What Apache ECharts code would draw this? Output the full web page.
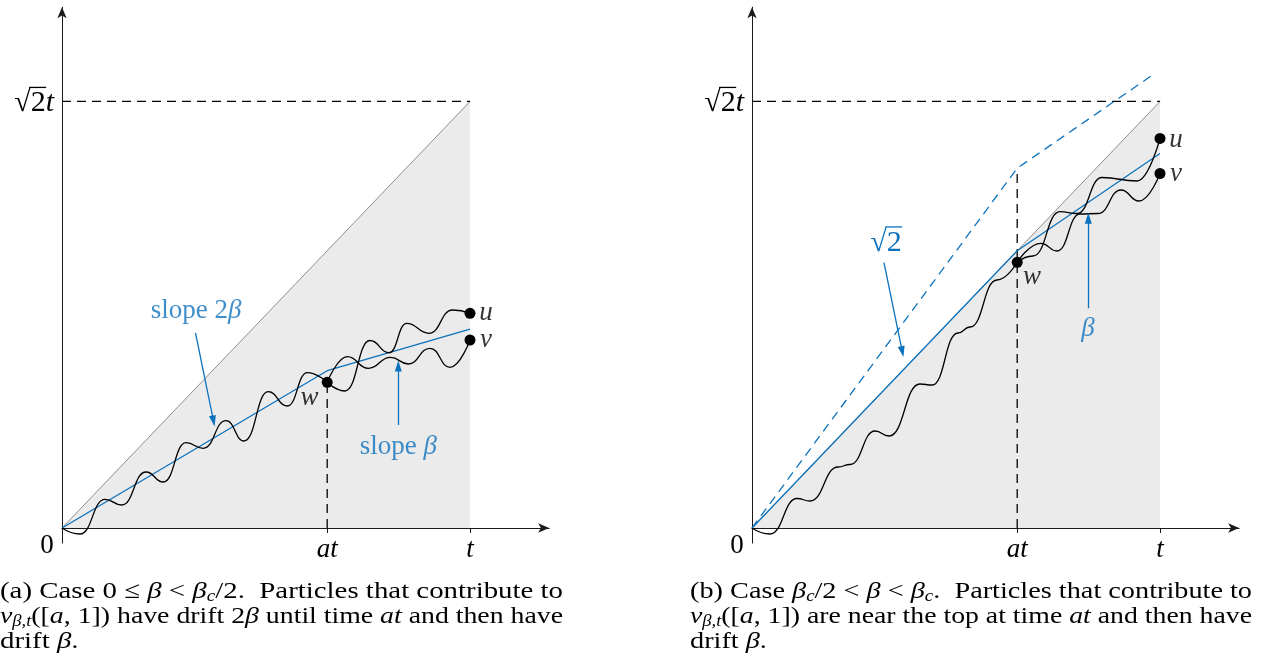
<!DOCTYPE html>
<html>
<head>
<meta charset="utf-8">
<script src="https://cdn.jsdelivr.net/npm/echarts@6.0.0/dist/echarts.min.js"></script>
<style>
html,body{margin:0;padding:0;background:#fff;}
#chart{width:1266px;height:667px;}
</style>
</head>
<body>
<div id="chart"></div>
<script>
// ---------------- data (time in units of t; height in the same units, top = sqrt(2)) ----------------
const SQRT2 = 1.41421;
const xTickValues = [0.65, 1];
const xTickLabels = ['at', 't'];

// panel (a)
const aTriangle = [[0, 0], [1, SQRT2]];
const aTopDash = [[0, SQRT2], [1, SQRT2]];
const aAtDash = [[0.65, 0], [0.65, 0.4831]];
const aBlue = [[0, 0], [0.65, 0.5216], [1, 0.659]];
const aPathToW = [[0, 0], [0.0441, -0.0199], [0.1054, 0.0952], [0.1463, 0.0763], [0.2059, 0.1857], [0.2483, 0.1525],
  [0.3039, 0.2828], [0.3463, 0.2643], [0.4020, 0.3558], [0.4461, 0.2885], [0.5056, 0.4519], [0.5522, 0.4045],
  [0.6012, 0.5149], [0.65, 0.4831]];
const aPathToU = [[0.65, 0.4831], [0.6936, 0.4542], [0.7549, 0.6217], [0.8015, 0.5812], [0.8449, 0.6787],
  [0.8995, 0.6456], [0.9571, 0.7228], [1, 0.7119]];
const aPathToV = [[0.65, 0.4831], [0.6998, 0.5680], [0.7507, 0.5295], [0.8051, 0.5660], [0.8488, 0.5438],
  [0.9020, 0.5958], [0.9510, 0.5328], [1, 0.6233]];
const aDots = [[0.65, 0.4831], [1, 0.7119], [1, 0.6233]];
const aArrows = [[0.3272, 0.6466, 0.3713, 0.3548], [0.8243, 0.3415, 0.8243, 0.5371]];
const aTexts = [
  [0.6066, 0.4310, '{i|w}'],
  [1.0392, 0.7129, '{i|u}'],
  [1.0392, 0.6233, '{i|v}'],
  [0.3284, 0.7195, '{b|slope 2}{bi|β}'],
  [0.8243, 0.2686, '{b|slope }{bi|β}']
];

// panel (b)
const bTriangle = [[0, 0], [1, SQRT2]];
const bTopDash = [[0, SQRT2], [1, SQRT2]];
const bAtDash = [[0.65, 0], [0.65, 1.193]];
const bBlue = [[0, 0], [0.65, 0.9192], [1, 1.242]];
const bBlueDashed = [[0, 0], [0.65, 1.193], [0.985, 1.505]];
const bPathToW = [[0, 0], [0.0441, -0.0199], [0.1103, 0.0978], [0.1422, 0.0895], [0.2108, 0.2023], [0.2402, 0.2105],
  [0.3015, 0.3216], [0.3358, 0.3050], [0.4118, 0.4775], [0.4412, 0.4741], [0.5049, 0.6466], [0.5343, 0.6664],
  [0.6005, 0.8223], [0.65, 0.8810]];
const bPathToU = [[0.65, 0.8810], [0.6887, 0.9019], [0.7549, 1.0487], [0.7966, 1.0428], [0.8578, 1.1621],
  [0.9436, 1.1505], [1, 1.2915]];
const bPathToV = [[0.65, 0.8810], [0.7083, 0.9440], [0.7475, 0.9184], [0.8039, 1.0411], [0.8480, 1.0428],
  [0.9044, 1.1207], [0.9485, 1.0842], [1, 1.1754]];
const bDots = [[0.65, 0.8810], [1, 1.2915], [1, 1.1754]];
const bArrows = [[0.3235, 0.8797, 0.3684, 0.5846], [0.8243, 0.7285, 0.8243, 1.0269]];
const bTexts = [
  [0.6863, 0.8322, '{i|w}'],
  [1.0392, 1.2865, '{i|u}'],
  [1.0392, 1.1737, '{i|v}'],
  [0.8235, 0.6600, '{bi|β}']
];
const bSqrtLabel = [0.3284, 0.945];

// captions
const captionA = [
  [['r', '(a) Case 0 ≤ '], ['i', 'β'], ['r', ' < '], ['i', 'β'], ['s', 'c'], ['r', '/2.  Particles that contribute to']],
  [['i', 'ν'], ['s', 'β,t'], ['r', '(['], ['i', 'a'], ['r', ', 1]) have drift 2'], ['i', 'β'], ['r', ' until time '], ['i', 'at'], ['r', ' and then have']],
  [['r', 'drift '], ['i', 'β'], ['r', '.']]
];
const captionB = [
  [['r', '(b) Case '], ['i', 'β'], ['s', 'c'], ['r', '/2 < '], ['i', 'β'], ['r', ' < '], ['i', 'β'], ['s', 'c'], ['r', '.  Particles that contribute to']],
  [['i', 'ν'], ['s', 'β,t'], ['r', '(['], ['i', 'a'], ['r', ', 1]) are near the top at time '], ['i', 'at'], ['r', ' and then have']],
  [['r', 'drift '], ['i', 'β'], ['r', '.']]
];

// ---------------- layout / style ----------------
const FONT = "'Liberation Serif', serif";
const BLUE = '#0c72bd';
const INK = '#000';
const AXIS = '#1a1a1a';
const LABEL_SIZE = 27;
const SQRT_SIZE = 30;
const PX_X = 408, PX_Y = 301.6;
const X_MAX = 1.194, Y_MAX = 1.727, Y_MIN = -0.05;
const ORIGINS = [[62, 528], [752, 528]];
const DASH = [9, 6];

const chart = echarts.init(document.getElementById('chart'));

function gridFor(o) {
  return { left: o[0], top: o[1] - Y_MAX * PX_Y, width: X_MAX * PX_X, height: (Y_MAX - Y_MIN) * PX_Y };
}
function xAxisFor(i) {
  return {
    type: 'value', gridIndex: i, min: 0, max: X_MAX,
    axisLine: { show: true, onZero: true, lineStyle: { color: AXIS, width: 1 }, symbol: ['none', 'arrow'], symbolSize: [7, 11] },
    axisTick: { show: true, customValues: xTickValues, length: 5, lineStyle: { color: AXIS, width: 1 } },
    axisLabel: {
      show: true, customValues: xTickValues, margin: -7,
      formatter: function (v) {
        const k = xTickValues.findIndex(function (t) { return Math.abs(t - v) < 1e-6; });
        return '{i|' + (k >= 0 ? xTickLabels[k] : '') + '}';
      },
      rich: { i: { fontFamily: FONT, fontStyle: 'italic', fontSize: LABEL_SIZE, color: INK } }
    },
    splitLine: { show: false }
  };
}
function yAxisFor(i) {
  return {
    type: 'value', gridIndex: i, min: Y_MIN, max: Y_MAX,
    axisLine: { show: true, onZero: false, lineStyle: { color: AXIS, width: 1 }, symbol: ['none', 'arrow'], symbolSize: [7, 11] },
    axisTick: { show: false }, axisLabel: { show: false }, splitLine: { show: false }
  };
}
const labelRich = {
  i: { fontFamily: FONT, fontStyle: 'italic', fontSize: LABEL_SIZE, color: INK },
  b: { fontFamily: FONT, fontSize: LABEL_SIZE, color: BLUE },
  bi: { fontFamily: FONT, fontStyle: 'italic', fontSize: LABEL_SIZE, color: BLUE }
};

function panelSeries(g, d) {
  const ax = { xAxisIndex: g, yAxisIndex: g, silent: true };
  const s = [];
  s.push(Object.assign({ type: 'line', data: d.tri, symbol: 'none', z: 1,
    lineStyle: { color: '#8e8e8e', width: 1 }, areaStyle: { color: '#ebebeb', opacity: 1 } }, ax));
  s.push(Object.assign({ type: 'line', data: d.top, symbol: 'none', z: 2,
    lineStyle: { color: '#000', width: 1.3, type: DASH } }, ax));
  s.push(Object.assign({ type: 'line', data: d.atd, symbol: 'none', z: 2,
    lineStyle: { color: '#000', width: 1.3, type: DASH } }, ax));
  if (d.blueDash) {
    s.push(Object.assign({ type: 'line', data: d.blueDash, symbol: 'none', z: 3,
      lineStyle: { color: BLUE, width: 1.3, type: DASH } }, ax));
  }
  s.push(Object.assign({ type: 'line', data: d.blue, symbol: 'none', z: 3,
    lineStyle: { color: BLUE, width: 1.3 } }, ax));
  d.paths.forEach(function (p) {
    s.push(Object.assign({ type: 'line', data: p, symbol: 'none', smooth: 0.5, smoothMonotone: 'x', z: 4,
      lineStyle: { color: '#000', width: 1.3 } }, ax));
  });
  s.push(Object.assign({ type: 'lines', coordinateSystem: 'cartesian2d', z: 5,
    data: d.arrows.map(function (a) { return { coords: [[a[0], a[1]], [a[2], a[3]]] }; }),
    symbol: ['none', 'triangle'], symbolSize: [[7, 11], [7, 11]],
    lineStyle: { color: BLUE, width: 1.3, opacity: 1 } }, ax));
  s.push(Object.assign({ type: 'scatter', data: d.dots, symbol: 'circle', symbolSize: 11, z: 6,
    itemStyle: { color: '#000', opacity: 1 } }, ax));
  s.push(Object.assign({ type: 'scatter', z: 7, symbolSize: 1, itemStyle: { color: 'rgba(0,0,0,0)' },
    data: d.texts.map(function (t) { return { value: [t[0], t[1]], name: t[2] }; }),
    label: { show: true, position: 'inside', formatter: function (p) { return p.name; }, rich: labelRich } }, ax));
  return s;
}

const series = [].concat(
  panelSeries(0, { tri: aTriangle, top: aTopDash, atd: aAtDash, blue: aBlue, paths: [aPathToW, aPathToU, aPathToV],
    arrows: aArrows, dots: aDots, texts: aTexts }),
  panelSeries(1, { tri: bTriangle, top: bTopDash, atd: bAtDash, blue: bBlue, blueDash: bBlueDashed,
    paths: [bPathToW, bPathToU, bPathToV], arrows: bArrows, dots: bDots, texts: bTexts })
);

chart.setOption({
  animation: false,
  backgroundColor: '#fff',
  grid: [gridFor(ORIGINS[0]), gridFor(ORIGINS[1])],
  xAxis: [xAxisFor(0), xAxisFor(1)],
  yAxis: [yAxisFor(0), yAxisFor(1)],
  series: series
});

// ---------------- text decorations (graphic) ----------------
const mctx = document.createElement('canvas').getContext('2d');
function tw(text, size, italic) {
  mctx.font = (italic ? 'italic ' : '') + size + 'px ' + FONT;
  return mctx.measureText(text).width;
}
function textEl(text, x, y, size, italic, color, align) {
  return { type: 'text', x: x, y: y, silent: true,
    style: { text: text, fontFamily: FONT, fontSize: size, fontStyle: italic ? 'italic' : 'normal', fill: color,
      align: align || 'left', verticalAlign: 'middle', textAlign: align || 'left', textVerticalAlign: 'middle' } };
}
function sqrtLabel(left, mid, color, size, suffix) {
  const w1 = tw('√', size), w2 = tw('2', size);
  const els = [textEl('√', left, mid, size, false, color), textEl('2', left + w1, mid, size, false, color)];
  if (suffix) els.push(textEl(suffix, left + w1 + w2, mid, size, true, color));
  const yBar = mid + 0.305 * size - 0.84 * size;
  els.push({ type: 'line', silent: true, shape: { x1: left + w1 - 1.5, y1: yBar, x2: left + w1 + w2 + 0.5, y2: yBar },
    style: { stroke: color, lineWidth: 1.3 } });
  return els;
}
function sqrtWidth(size, suffix) { return tw('√', size) + tw('2', size) + (suffix ? tw(suffix, size, true) : 0); }

const CAP_SIZE = 24, SUB_SIZE = 16, CAP_LH = 25;
const capStyles = {
  r: { size: CAP_SIZE, italic: false }, i: { size: CAP_SIZE, italic: true }, s: { size: SUB_SIZE, italic: true }
};
const capRich = {
  r: { fontFamily: FONT, fontSize: CAP_SIZE, fill: INK, lineHeight: CAP_LH },
  i: { fontFamily: FONT, fontSize: CAP_SIZE, fontStyle: 'italic', fill: INK, lineHeight: CAP_LH },
  s: { fontFamily: FONT, fontSize: SUB_SIZE, fontStyle: 'italic', fill: INK, lineHeight: SUB_SIZE, verticalAlign: 'bottom' }
};
function captionEls(lines, left, firstMid, width) {
  const els = [];
  let s0 = 1;
  lines.forEach(function (line, k) {
    let w = 0, txt = '';
    line.forEach(function (tok) {
      const st = capStyles[tok[0]];
      w += tw(tok[1], st.size, st.italic);
      txt += '{' + tok[0] + '|' + tok[1] + '}';
    });
    let sc;
    if (k < lines.length - 1) { sc = width / w; if (k === 0) s0 = sc; } else { sc = s0; }
    els.push({ type: 'text', x: left, y: firstMid + k * CAP_LH, scaleX: sc, silent: true,
      style: { text: txt, x: 0, y: 0, rich: capRich, align: 'left', verticalAlign: 'middle', textAlign: 'left', textVerticalAlign: 'middle' } });
  });
  return els;
}

function px(g, p) { return chart.convertToPixel({ gridIndex: g }, p); }
let gEls = [];
[0, 1].forEach(function (g) {
  const o = px(g, [0, 0]);
  gEls.push(textEl('0', o[0] - 15, o[1] + 18, LABEL_SIZE, false, INK, 'center'));
  const top = px(g, [0, SQRT2]);
  const wSq = sqrtWidth(SQRT_SIZE, 't');
  gEls = gEls.concat(sqrtLabel(top[0] - 8 - wSq, top[1] + 2, INK, SQRT_SIZE, 't'));
});
const bl = px(1, bSqrtLabel);
gEls = gEls.concat(sqrtLabel(bl[0] - sqrtWidth(SQRT_SIZE) / 2, bl[1], BLUE, SQRT_SIZE));
gEls = gEls.concat(captionEls(captionA, 0, 592, 563));
gEls = gEls.concat(captionEls(captionB, 690, 592, 562));

chart.setOption({ graphic: { elements: gEls } });
</script>
</body>
</html>
